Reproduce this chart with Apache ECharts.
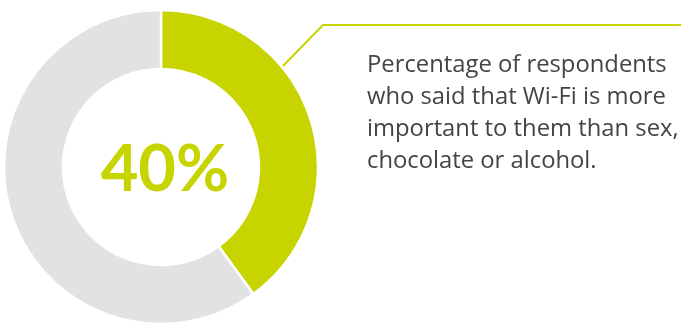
<!DOCTYPE html>
<html>
<head>
<meta charset="utf-8">
<script src="https://cdn.jsdelivr.net/npm/echarts@6/dist/echarts.min.js"></script>
<style>
  html, body { margin: 0; padding: 0; background: #ffffff; }
  #chart { width: 681px; height: 327px; }
</style>
</head>
<body>
<div id="chart"></div>
<script>
// Share of respondents who put Wi-Fi ahead of sex, chocolate or alcohol
const categories = ['Wi-Fi more important', 'Other answers'];
const shares = [40, 60];
const sliceColors = ['#c8d400', '#e3e2e3'];
const captionLines = [
  'Percentage of respondents',
  'who said that Wi-Fi is more',
  'important to them than sex,',
  'chocolate or alcohol.'
];

const chart = echarts.init(document.getElementById('chart'), null, { renderer: 'canvas' });

const pieData = categories.map((name, i) => ({
  name,
  value: shares[i],
  itemStyle: { color: sliceColors[i] },
  label: i === 0 ? {
    show: true,
    position: 'center',
    formatter: '{c}%',
    color: sliceColors[0],
    fontFamily: 'Lato',
    fontWeight: 'bold',
    fontSize: 65,
    offset: [4, 3]
  } : { show: false }
}));

chart.setOption({
  animation: false,
  backgroundColor: '#ffffff',
  series: [{
    type: 'pie',
    center: [161, 167],
    radius: [98, 157],
    startAngle: 90,
    clockwise: true,
    silent: true,
    itemStyle: { borderColor: '#ffffff', borderWidth: 2.5 },
    labelLine: { show: false },
    emphasis: { disabled: true },
    data: pieData
  }],
  graphic: [
    {
      type: 'polyline',
      shape: { points: [[282, 67], [323, 25], [681, 25]] },
      style: { stroke: sliceColors[0], lineWidth: 2, fill: null }
    },
    {
      type: 'text',
      left: 367,
      top: 49,
      style: {
        text: captionLines.join('\n'),
        fill: '#444444',
        font: '23.8px "Open Sans"',
        lineHeight: 32
      }
    }
  ]
});
</script>
</body>
</html>
